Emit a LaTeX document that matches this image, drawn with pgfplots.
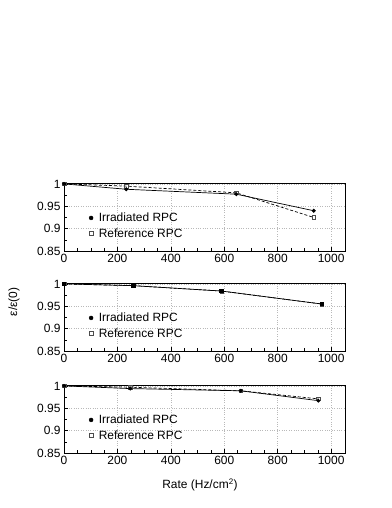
\documentclass[border=0pt]{standalone}
\usepackage{pgfplots}
\pgfplotsset{compat=1.18}
\usepackage{fontspec}
\setmainfont{Liberation Sans}

\pgfplotsset{
    rpcpanel/.style={
        scale only axis,
        width=281bp, height=68bp,
        anchor=south west,
        xmin=0, xmax=1052,
        ymin=0.85, ymax=1.002,
        xtick={0,200,...,1000},
        ytick={0.85,0.9,0.95,1},
        yticklabels={0.85,0.9,0.95,1},
        minor x tick num=3,
        minor y tick num=1,
        tick pos=left,
        tick align=inside,
        major tick length=4bp,
        minor tick length=2.5bp,
        grid=major,
        grid style={dotted, gray!55, line width=0.4pt},
        axis line style={line width=0.9pt},
        tick style={black, line width=0.4pt},
        tick label style={font=\fontsize{12}{14}\selectfont},
        /pgf/number format/assume math mode=true,
        /pgf/number format/1000 sep={},
        legend style={draw=none, fill=none, at={(0.075,0.12)}, anchor=south west,
            font=\fontsize{12}{14}\selectfont, row sep=1.5pt},
        legend cell align=left,
    },
    irr/.style={black, line width=0.7pt, mark=*, mark size=1.6pt, mark options={solid}},
    ref/.style={black, densely dashed, line width=0.7pt, mark=square, mark size=1.8pt,
        mark options={solid, draw=gray!60!black, line width=0.5pt}},
    markleg/.style={legend image code/.code={
        \path[draw=none, fill=none] (-0.1cm,0cm) rectangle (0.2cm,0.01cm);
        \draw[##1] plot coordinates {(0cm,0cm)};}},
    irrleg/.style={only marks, mark=*, mark size=2pt, black, markleg},
    refleg/.style={only marks, mark=square, mark size=2pt, draw=gray!60!black, line width=0.5pt, markleg},
}

\begin{document}
\begin{tikzpicture}
\useasboundingbox (0,0) rectangle (392bp,508bp);

\begin{axis}[rpcpanel, at={(64bp,257bp)}]
\addplot[ref, forget plot] coordinates {(0,1) (233,0.995) (645,0.980) (935,0.925)};
\addplot[irr, forget plot] coordinates {(0,1) (233,0.988) (645,0.977) (935,0.940)};
\addlegendimage{irrleg}
\addlegendimage{refleg}
\legend{Irradiated RPC, Reference RPC}
\end{axis}

\begin{axis}[rpcpanel, at={(64bp,157bp)}]
\addplot[ref, forget plot] coordinates {(0,1) (260,0.996) (590,0.984) (965,0.955)};
\addplot[irr, mark=square*, mark size=1.8pt, forget plot] coordinates {(0,1) (260,0.996) (590,0.984) (965,0.955)};
\addlegendimage{irrleg}
\addlegendimage{refleg}
\legend{Irradiated RPC, Reference RPC}
\end{axis}

\begin{axis}[rpcpanel, at={(64bp,55bp)}]
\addplot[ref, forget plot] coordinates {(0,1) (248,0.997) (662,0.989) (952,0.971)};
\addplot[irr, forget plot] coordinates {(0,1) (248,0.994) (662,0.989) (952,0.967)};
\addlegendimage{irrleg}
\addlegendimage{refleg}
\legend{Irradiated RPC, Reference RPC}
\end{axis}

\node[rotate=90, font=\fontsize{12}{14}\selectfont] at (14bp,206bp) {ε/ε(0)};
\node[font=\fontsize{12}{14}\selectfont] at (200bp,23bp) {Rate (Hz/cm\textsuperscript{2})};
\end{tikzpicture}
\end{document}
